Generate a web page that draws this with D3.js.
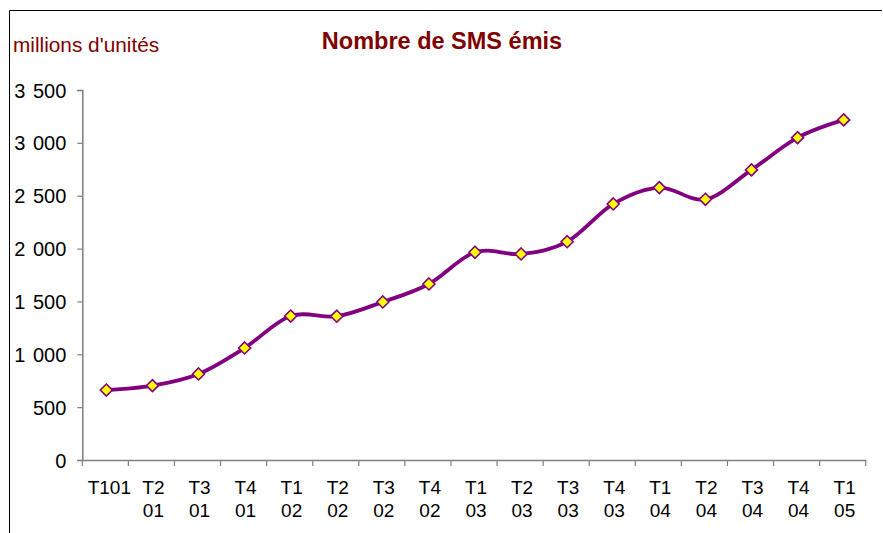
<!DOCTYPE html>
<html>
<head>
<meta charset="utf-8">
<script src="https://cdn.jsdelivr.net/npm/d3@7/dist/d3.min.js"></script>
<style>
  html, body { margin: 0; padding: 0; background: #fff; }
  svg { display: block; }
  text { font-family: "Liberation Sans", Arial, sans-serif; }
</style>
</head>
<body>
<svg id="chart" width="883" height="533"></svg>
<script>
const categories = ["T101", "T2 01", "T3 01", "T4 01", "T1 02", "T2 02", "T3 02", "T4 02",
  "T1 03", "T2 03", "T3 03", "T4 03", "T1 04", "T2 04", "T3 04", "T4 04", "T1 05"];
const smsValues = [662, 703, 814, 1060, 1362, 1360, 1495, 1665,
  1965, 1949, 2065, 2422, 2577, 2466, 2744, 3049, 3217];
const yTicks = [0, 500, 1000, 1500, 2000, 2500, 3000, 3500];
const titleText = "Nombre de SMS émis";
const unitText = "millions d'unités";

(function () {
const svg = d3.select("#chart");
const plotLeft = 82.3, plotRight = 865.7, plotTop = 90, plotBottom = 460;

// outer frame (top and left edges visible)
svg.append("path").attr("d", "M9.5,533 V10.5 H882").attr("fill", "none").attr("stroke", "#000").attr("stroke-width", 1);

const x = d3.scaleBand().domain(categories).range([plotLeft, plotRight]).padding(0);
const y = d3.scaleLinear().domain([0, 3500]).range([plotBottom, plotTop]);

// Y axis
const yAxis = svg.append("g").attr("transform", `translate(${plotLeft},0)`)
  .call(d3.axisLeft(y).tickValues(yTicks).tickSize(5).tickPadding(11)
    .tickFormat(d => d3.format(",")(d).replace(/,/g, " ")));
yAxis.select(".domain").attr("stroke", "#808080").attr("stroke-width", 1.5);
yAxis.selectAll(".tick line").attr("stroke", "#808080").attr("stroke-width", 1.2);
yAxis.selectAll(".tick text").attr("fill", "#000").style("font-size", "20px")
  .style("word-spacing", "2px")
  .style("font-family", "'Liberation Sans', Arial, sans-serif").attr("dy", "0.35em");

// X axis
const xAxis = svg.append("g").attr("transform", `translate(0,${plotBottom})`)
  .call(d3.axisBottom(x).tickSize(0).tickFormat(""));
xAxis.select(".domain").attr("stroke", "#808080").attr("stroke-width", 1.5);
xAxis.selectAll(".tick").remove();
const boundaries = categories.map(c => x(c)).concat([x(categories[categories.length - 1]) + x.bandwidth()]);
xAxis.selectAll("line.bt").data(boundaries).enter().append("line")
  .attr("class", "bt").attr("x1", d => d).attr("x2", d => d).attr("y1", 0).attr("y2", 6)
  .attr("stroke", "#808080").attr("stroke-width", 1.2);

const labels = svg.append("g");
categories.forEach(c => {
  const parts = c.split(" ");
  const t = labels.append("text").attr("text-anchor", "middle")
    .attr("y", 494).style("font-size", "19px").attr("fill", "#000");
  parts.forEach((p, i) => {
    t.append("tspan").attr("x", x(c) + x.bandwidth() / 2 + (parts.length === 1 ? 4 : 2))
      .attr("dy", i === 0 ? 0 : 23).text(p);
  });
});

// line
const pts = categories.map((c, i) => [x(c) + x.bandwidth() / 2 + 1, y(smsValues[i])]);
svg.append("path").datum(pts)
  .attr("d", d3.line().curve(d3.curveCatmullRom.alpha(0)))
  .attr("fill", "none").attr("stroke", "#800080").attr("stroke-width", 3.8)
  .attr("stroke-linejoin", "round");

// markers
svg.append("g").selectAll("path").data(pts).enter().append("path")
  .attr("transform", d => `translate(${d[0]},${d[1]})`)
  .attr("d", "M0,-6 L6,0 L0,6 L-6,0 Z")
  .attr("fill", "#FFFF00").attr("stroke", "#800080").attr("stroke-width", 1.6);

// texts
svg.append("text").attr("x", 442).attr("y", 49).attr("text-anchor", "middle")
  .style("font-size", "23.5px").style("font-weight", "bold").attr("fill", "#800000").text(titleText);
svg.append("text").attr("x", 13).attr("y", 52)
  .style("font-size", "20.8px").attr("fill", "#800000").text(unitText);
})();
</script>
</body>
</html>
